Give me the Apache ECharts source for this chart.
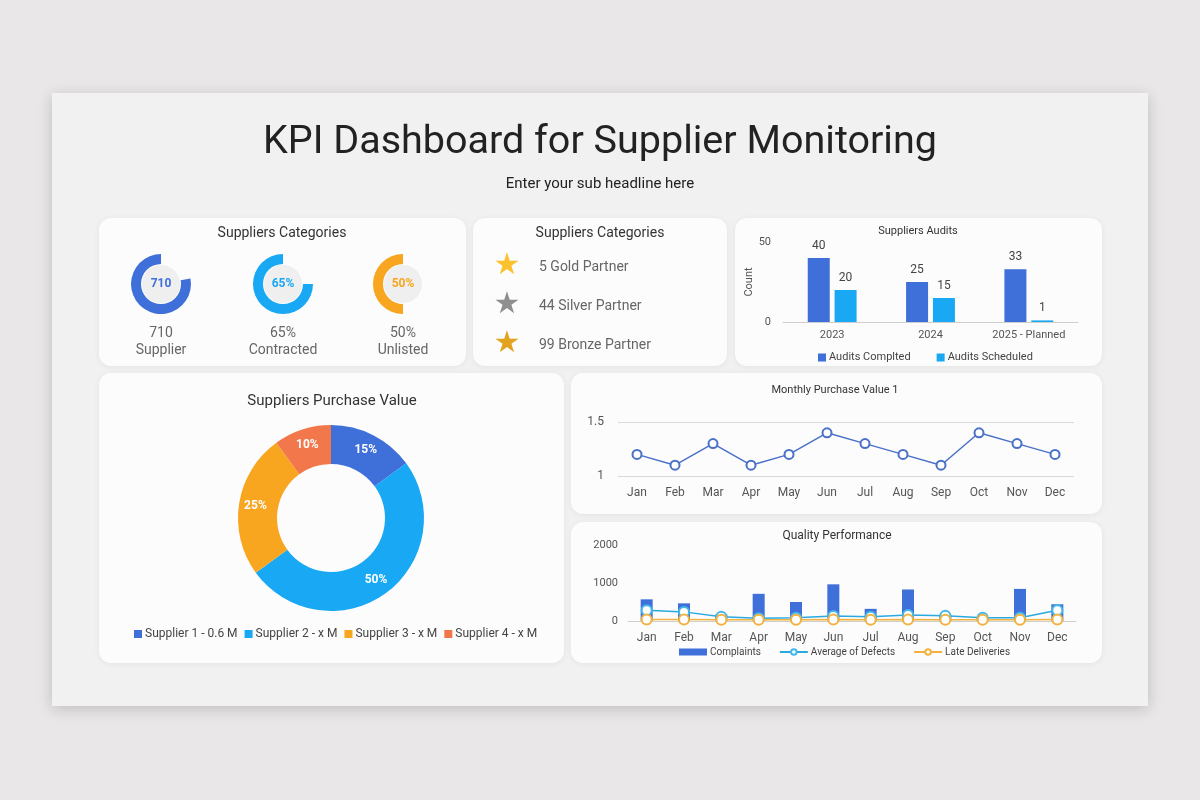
<!DOCTYPE html>
<html>
<head>
<meta charset="utf-8">
<script src="https://cdn.jsdelivr.net/npm/echarts@6/dist/echarts.min.js"></script>
<style>
  html, body { margin: 0; padding: 0; background: #e9e7e8; }
  #main { width: 1200px; height: 800px; }
</style>
</head>
<body>
<div id="main"></div>
<script>
// data
const ringCaptions = ['Supplier', 'Contracted', 'Unlisted']
const ringValues = ['710', '65%', '50%']
const ringFill = [78, 75, 50]
const partnerLabels = ['5 Gold Partner', '44 Silver Partner', '99 Bronze Partner']
const auditYears = ['2023', '2024', '2025 - Planned']
const auditsCompleted = [40, 25, 33]
const auditsScheduled = [20, 15, 1]
const supplierNames = ['Supplier 1 - 0.6 M', 'Supplier 2 - x M', 'Supplier 3 - x M', 'Supplier 4 - x M']
const supplierShare = [15, 50, 25, 10]
const months = ['Jan', 'Feb', 'Mar', 'Apr', 'May', 'Jun', 'Jul', 'Aug', 'Sep', 'Oct', 'Nov', 'Dec']
const monthlyPurchase = [1.2, 1.1, 1.3, 1.1, 1.2, 1.4, 1.3, 1.2, 1.1, 1.4, 1.3, 1.2]
const complaints = [570, 465, 170, 715, 500, 965, 320, 830, 160, 90, 845, 440]
const avgDefects = [285, 240, 110, 70, 85, 130, 110, 155, 140, 85, 85, 285]
const lateDeliveries = [40, 40, 35, 30, 35, 40, 35, 40, 35, 30, 35, 40]

const BLUE = '#3f6fd9'
const CYAN = '#18a8f4'
const ORANGE = '#f8a520'
const RED = '#f2784b'
const FONT = 'Roboto'
const ringColors = [BLUE, CYAN, ORANGE]
const ringX = [161, 283, 403]
const starColors = ['#fbc12e', '#8f8f8f', '#e1a320']

const chart = echarts.init(document.getElementById('main'))

function card(x, y, w, h) {
  return {
    type: 'rect',
    shape: { x, y, width: w, height: h, r: 12 },
    style: { fill: '#fcfcfc', shadowBlur: 6, shadowColor: 'rgba(0,0,0,0.06)', shadowOffsetY: 1 }
  }
}

function label(text, x, y, size, color, extra) {
  return {
    type: 'text',
    x, y,
    style: Object.assign({
      text,
      fill: color,
      fontSize: size,
      fontFamily: FONT,
      align: 'center',
      verticalAlign: 'middle'
    }, extra || {})
  }
}

const graphics = [
  {
    type: 'rect',
    shape: { x: 52, y: 93, width: 1096, height: 613 },
    style: { fill: '#f1f1f1', shadowBlur: 14, shadowColor: 'rgba(0,0,0,0.18)', shadowOffsetY: 3 }
  },
  card(99, 218, 367, 148),
  card(473, 218, 254, 148),
  card(735, 218, 367, 148),
  card(99, 373, 465, 290),
  card(571, 373, 531, 141),
  card(571, 522, 531, 141),
  label('KPI Dashboard for Supplier Monitoring', 600, 143, 39.5, '#222'),
  label('Enter your sub headline here', 600, 184, 15, '#222'),
  label('Suppliers Categories', 282, 233, 14, '#333'),
  label('Suppliers Categories', 600, 233, 14, '#333'),
  label('Suppliers Audits', 918, 231, 11, '#333'),
  label('Suppliers Purchase Value', 332, 401, 15, '#333'),
  label('Monthly Purchase Value 1', 835, 390, 11, '#333'),
  label('Quality Performance', 837, 536, 12, '#333')
]

ringCaptions.forEach((c, i) => {
  graphics.push(label(ringValues[i], ringX[i], 333, 14, '#666'))
  graphics.push(label(c, ringX[i], 350, 14, '#666'))
})

partnerLabels.forEach((t, i) => {
  const y = 266 + i * 39
  graphics.push(label('\u2605', 507, y, 30, starColors[i], { fontFamily: 'DejaVu Sans' }))
  graphics.push(label(t, 539, y + 1, 14, '#666', { align: 'left' }))
})

const series = []

// progress rings
ringFill.forEach((f, i) => {
  series.push({
    type: 'pie',
    silent: true,
    center: [ringX[i], 284],
    radius: [20, 30],
    startAngle: 90,
    label: { show: false },
    labelLine: { show: false },
    data: [
      { value: 100 - f, name: 'gap' + i, itemStyle: { color: 'rgba(0,0,0,0)' } },
      { value: f, name: 'fill' + i, itemStyle: { color: ringColors[i] } }
    ]
  })
  series.push({
    type: 'pie',
    silent: true,
    center: [ringX[i], 284],
    radius: [0, 19],
    label: {
      show: true,
      position: 'center',
      formatter: ringValues[i],
      color: ringColors[i],
      fontWeight: 'bold',
      fontSize: 12,
      fontFamily: FONT
    },
    data: [{ value: 1, name: 'core' + i, itemStyle: { color: '#efefef' } }]
  })
})

// purchase value donut
series.push({
  type: 'pie',
  name: 'Purchase',
  center: [331, 518],
  radius: [54, 93],
  startAngle: 90,
  label: {
    show: true,
    position: 'inside',
    formatter: '{c}%',
    color: '#fff',
    fontWeight: 'bold',
    fontSize: 12,
    fontFamily: FONT
  },
  data: supplierNames.map((n, i) => ({
    name: n,
    value: supplierShare[i],
    itemStyle: { color: [BLUE, CYAN, ORANGE, RED][i] }
  }))
})

// audits
series.push({
  type: 'bar',
  name: 'Audits Complted',
  xAxisIndex: 0, yAxisIndex: 0,
  data: auditsCompleted,
  barWidth: 22,
  barGap: '22%',
  itemStyle: { color: BLUE },
  label: { show: true, position: 'top', color: '#444', fontSize: 12, fontFamily: FONT, distance: 6 }
})
series.push({
  type: 'bar',
  name: 'Audits Scheduled',
  xAxisIndex: 0, yAxisIndex: 0,
  data: auditsScheduled,
  barWidth: 22,
  itemStyle: { color: CYAN },
  label: { show: true, position: 'top', color: '#444', fontSize: 12, fontFamily: FONT, distance: 6 }
})

// monthly purchase
series.push({
  type: 'line',
  name: 'Monthly',
  xAxisIndex: 1, yAxisIndex: 1,
  data: monthlyPurchase,
  symbol: 'emptyCircle',
  symbolSize: 9,
  lineStyle: { color: '#4a70c8', width: 1.5 },
  itemStyle: { color: '#4a70c8', borderWidth: 1.5 }
})

// quality performance
series.push({
  type: 'bar',
  name: 'Complaints',
  xAxisIndex: 2, yAxisIndex: 2,
  data: complaints,
  barWidth: 12,
  itemStyle: { color: BLUE }
})
series.push({
  type: 'line',
  name: 'Average of Defects',
  xAxisIndex: 2, yAxisIndex: 2,
  data: avgDefects,
  symbol: 'circle',
  symbolSize: 10,
  lineStyle: { color: '#2ba9df', width: 1.5 },
  itemStyle: { color: '#fff', borderColor: '#45b8e8', borderWidth: 2 }
})
series.push({
  type: 'line',
  name: 'Late Deliveries',
  xAxisIndex: 2, yAxisIndex: 2,
  data: lateDeliveries,
  symbol: 'circle',
  symbolSize: 10,
  lineStyle: { color: '#f3b23f', width: 1.5 },
  itemStyle: { color: '#fff', borderColor: '#f3b23f', borderWidth: 2 }
})

const axisText = { color: '#555', fontFamily: FONT }

chart.setOption({
  animation: false,
  textStyle: { fontFamily: FONT },
  graphic: graphics,
  grid: [
    { left: 783, right: 122, top: 242, bottom: 478 },
    { left: 618, right: 126, top: 422, bottom: 324 },
    { left: 628, right: 124, top: 545, bottom: 179 }
  ],
  xAxis: [
    {
      gridIndex: 0, type: 'category', data: auditYears,
      axisTick: { show: false },
      axisLine: { lineStyle: { color: '#cfcfcf' } },
      axisLabel: Object.assign({ fontSize: 11, margin: 8 }, axisText)
    },
    {
      gridIndex: 1, type: 'category', data: months,
      axisTick: { show: false },
      axisLine: { show: false },
      axisLabel: Object.assign({ fontSize: 12, margin: 11 }, axisText)
    },
    {
      gridIndex: 2, type: 'category', data: months,
      axisTick: { show: false },
      axisLine: { lineStyle: { color: '#cfcfcf' } },
      axisLabel: Object.assign({ fontSize: 12, margin: 11 }, axisText)
    }
  ],
  yAxis: [
    {
      gridIndex: 0, type: 'value', min: 0, max: 50, interval: 50,
      name: 'Count', nameLocation: 'middle', nameRotate: 90, nameGap: 28,
      nameTextStyle: Object.assign({ fontSize: 11 }, axisText),
      splitLine: { show: false },
      axisLabel: Object.assign({ fontSize: 11, margin: 12 }, axisText)
    },
    {
      gridIndex: 1, type: 'value', min: 1, max: 1.5, interval: 0.5,
      splitLine: { lineStyle: { color: '#d9d9d9' } },
      axisLabel: Object.assign({ fontSize: 12, margin: 14 }, axisText)
    },
    {
      gridIndex: 2, type: 'value', min: 0, max: 2000, interval: 1000,
      splitLine: { show: false },
      axisLabel: Object.assign({ fontSize: 11, margin: 10, formatter: v => String(v) }, axisText)
    }
  ],
  legend: [
    {
      data: supplierNames,
      left: 129, top: 623,
      icon: 'rect', itemWidth: 8, itemHeight: 8, itemGap: 7,
      textStyle: { color: '#444', fontSize: 12, fontFamily: FONT, padding: [0, 0, 0, -2] }
    },
    {
      data: ['Audits Complted', 'Audits Scheduled'],
      left: 813, top: 347,
      icon: 'rect', itemWidth: 8, itemHeight: 8, itemGap: 26,
      textStyle: { color: '#444', fontSize: 11, fontFamily: FONT, padding: [0, 0, 0, -2] }
    },
    {
      data: [{ name: 'Complaints', icon: 'rect' }, 'Average of Defects', 'Late Deliveries'],
      left: 674, top: 642,
      itemWidth: 28, itemHeight: 7, itemGap: 18,
      textStyle: { color: '#444', fontSize: 10, fontFamily: FONT, padding: [0, 0, 0, -2] }
    }
  ],
  series
})
</script>
</body>
</html>
